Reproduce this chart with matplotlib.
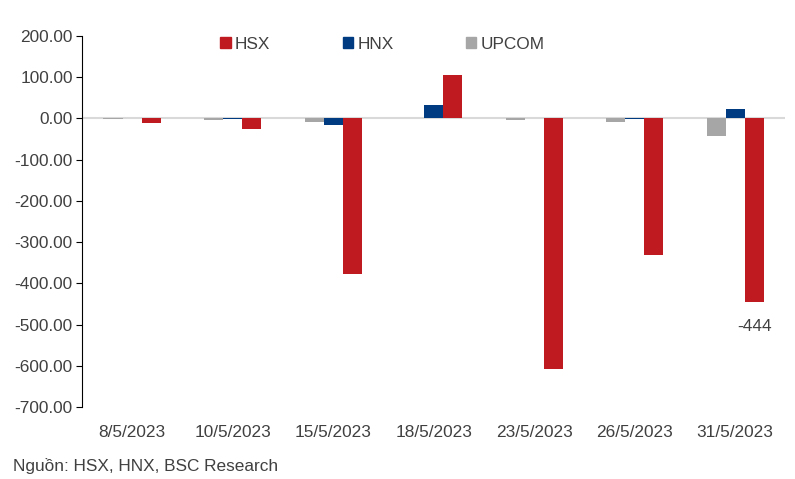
import matplotlib
matplotlib.use("Agg")
import matplotlib.pyplot as plt
import matplotlib.patches as patches
import numpy as np

plt.rcParams["font.family"] = ["Liberation Sans", "DejaVu Sans"]

# data
dates = ["8/5/2023", "10/5/2023", "15/5/2023", "18/5/2023", "23/5/2023", "26/5/2023", "31/5/2023"]
upcom = [-1, -5, -9, 2, -4, -8, -42]
hnx = [1, -1, -15, 32, 1, -1, 22]
hsx = [-12, -26, -377, 105, -607, -332, -444]

c_hsx = "#BE1A20"
c_hnx = "#003A80"
c_upcom = "#A6A6A6"
txt = "#404040"
fs = 12.4

fig = plt.figure(figsize=(7.95, 4.79), dpi=100)
ax = fig.add_axes([0.103, 0.150, 0.885, 0.775])

x = np.arange(len(dates))
w = 0.19
ax.bar(x - w, upcom, w, color=c_upcom, zorder=3)
ax.bar(x, hnx, w, color=c_hnx, zorder=3)
ax.bar(x + w, hsx, w, color=c_hsx, zorder=3)

# zero line
ax.axhline(0, color="#D9D9D9", lw=1.5, zorder=2)

# label on last HSX bar
ax.annotate(f"{hsx[-1]:d}", (x[-1] + w, hsx[-1]), xytext=(0, -18), textcoords="offset points",
            ha="center", va="center", fontsize=fs, color=txt)

ax.set_xlim(-0.5, len(dates) - 0.5)
ax.set_ylim(-700, 200)
ax.set_yticks(np.arange(-700, 201, 100))
ax.yaxis.set_major_formatter(matplotlib.ticker.FormatStrFormatter("%.2f"))
ax.set_xticks(x)
ax.set_xticklabels(dates)
ax.tick_params(axis="x", length=0, pad=13, labelsize=fs, labelcolor=txt)
ax.tick_params(axis="y", length=4.5, width=0.8, pad=2, labelsize=fs, labelcolor=txt, direction="out")

for s in ["top", "right", "bottom"]:
    ax.spines[s].set_visible(False)
ax.spines["left"].set_color("black")
ax.spines["left"].set_linewidth(0.8)

# legend
handles = [patches.Patch(color=c_hsx, label="HSX"),
           patches.Patch(color=c_hnx, label="HNX"),
           patches.Patch(color=c_upcom, label="UPCOM")]
fig.legend(handles=handles, loc="center", bbox_to_anchor=(0.481, 0.908), ncol=3, frameon=False,
           fontsize=fs, handlelength=0.6, handleheight=0.6, handletextpad=0.25,
           columnspacing=4.2, labelcolor=txt)

fig.text(0.016, 0.027, "Nguồn: HSX, HNX, BSC Research", fontsize=fs, color=txt, ha="left", va="center")

fig.savefig("out.png", dpi=100)
